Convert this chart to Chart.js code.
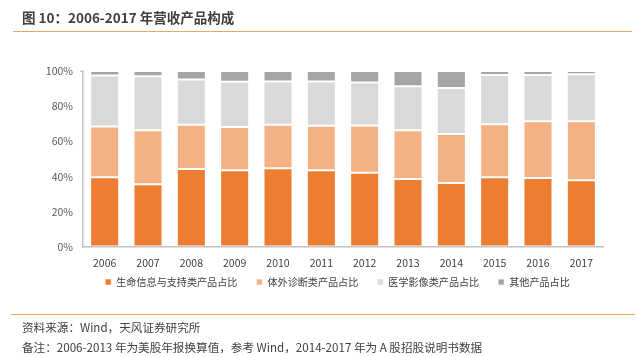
<!DOCTYPE html>
<html>
<head>
<meta charset="utf-8">
<script src="https://cdn.jsdelivr.net/npm/chart.js@4/dist/chart.umd.min.js"></script>
<style>
  html, body { margin: 0; padding: 0; background: #fff; }
  #wrap { position: relative; width: 637px; height: 357px; overflow: hidden; font-family: "Noto Sans CJK SC", "Noto Sans", sans-serif; }
  #title { position: absolute; left: 22px; top: 7px; font-size: 13.5px; font-weight: bold; color: #3f3f3f; white-space: nowrap; }
  .rule { position: absolute; height: 1px; background: #EDA566; }
  #src, #note { position: absolute; left: 22px; font-size: 11.6px; color: #404040; white-space: nowrap; }
  #cv { position: absolute; left: 0; top: 0; }
</style>
</head>
<body>
<div id="wrap">
  <canvas id="cv" width="637" height="357"></canvas>
  <div id="title">图 10：2006-2017 年营收产品构成</div>
  <div class="rule" style="left:13px; top:31px; width:619px;"></div>
  <div class="rule" style="left:11px; top:314px; width:624px;"></div>
  <div id="src" style="top:319px;">资料来源：Wind，天风证券研究所</div>
  <div id="note" style="top:339px;">备注：2006-2013 年为美股年报换算值，参考 Wind，2014-2017 年为 A 股招股说明书数据</div>
</div>
<script>
const categories = ["2006","2007","2008","2009","2010","2011","2012","2013","2014","2015","2016","2017"];
const seriesNames = ["生命信息与支持类产品占比","体外诊断类产品占比","医学影像类产品占比","其他产品占比"];
const lifeSupport = [39.6, 35.6, 44.3, 43.6, 44.7, 43.6, 42.2, 38.6, 36.4, 39.6, 39.2, 37.9];
const ivd         = [28.8, 30.7, 25.2, 24.6, 24.8, 25.3, 26.9, 27.7, 27.8, 30.1, 32.2, 33.5];
const imaging     = [29.1, 30.7, 25.6, 25.7, 24.6, 25.2, 24.3, 25.0, 26.1, 28.0, 26.3, 26.7];
const others      = [2.5, 3.0, 4.9, 6.1, 5.9, 5.9, 6.6, 8.7, 9.7, 2.3, 2.3, 1.9];
const yTicks = [0, 20, 40, 60, 80, 100];
const colors = ["#ED7D31", "#F4B183", "#D9D9D9", "#A5A5A5"];

const seriesValues = [lifeSupport, ivd, imaging, others];
const datasets = seriesValues.map((vals, i) => ({
  label: seriesNames[i],
  data: vals,
  backgroundColor: colors[i],
  borderColor: "rgba(255,255,255,0.55)",
  borderWidth: 1,
  borderSkipped: false,
  categoryPercentage: 1,
  barPercentage: 0.67
}));

const FONT = '"Noto Sans CJK SC", "Noto Sans", sans-serif';

const legendShift = {
  id: "legendShift",
  afterLayout(chart) {
    const l = chart.legend;
    const dx = 36, dy = -13;
    l.left += dx; l.right += dx;
    l.top += dy; l.bottom += dy;
  }
};

new Chart(document.getElementById("cv"), {
  type: "bar",
  data: { labels: categories, datasets },
  options: {
    responsive: false,
    animation: false,
    layout: { padding: { left: 0, right: 34, top: 71, bottom: 46.9 } },
    plugins: {
      tooltip: { enabled: false },
      legend: {
        position: "bottom",
        align: "center",
        labels: {
          boxWidth: 6,
          boxHeight: 6,
          padding: 19,
          color: "#404040",
          font: { family: FONT, size: 10.1 }
        }
      }
    },
    scales: {
      x: {
        stacked: true,
        grid: { display: false },
        border: { display: true, color: "#BFBFBF", width: 1.5 },
        ticks: { color: "#404040", font: { family: FONT, size: 10.5 }, padding: 2, maxRotation: 0 },
        afterFit: (s) => { s.height = 24; }
      },
      y: {
        stacked: true,
        min: 0,
        max: 100,
        afterBuildTicks: (s) => { s.ticks = yTicks.map(v => ({ value: v })); },
        grid: {
          drawOnChartArea: false,
          drawTicks: true,
          tickLength: 3,
          color: (ctx) => (ctx.tick && (ctx.tick.value === 100) ? "#BFBFBF" : "rgba(0,0,0,0)")
        },
        border: { display: true, color: "#BFBFBF", width: 1.5 },
        ticks: {
          color: "#595959",
          font: { family: FONT, size: 10.5 },
          padding: 7,
          callback: (v) => v + "%"
        },
        afterFit: (s) => { s.width = 83; }
      }
    }
  },
  plugins: [legendShift]
});
</script>
</body>
</html>
